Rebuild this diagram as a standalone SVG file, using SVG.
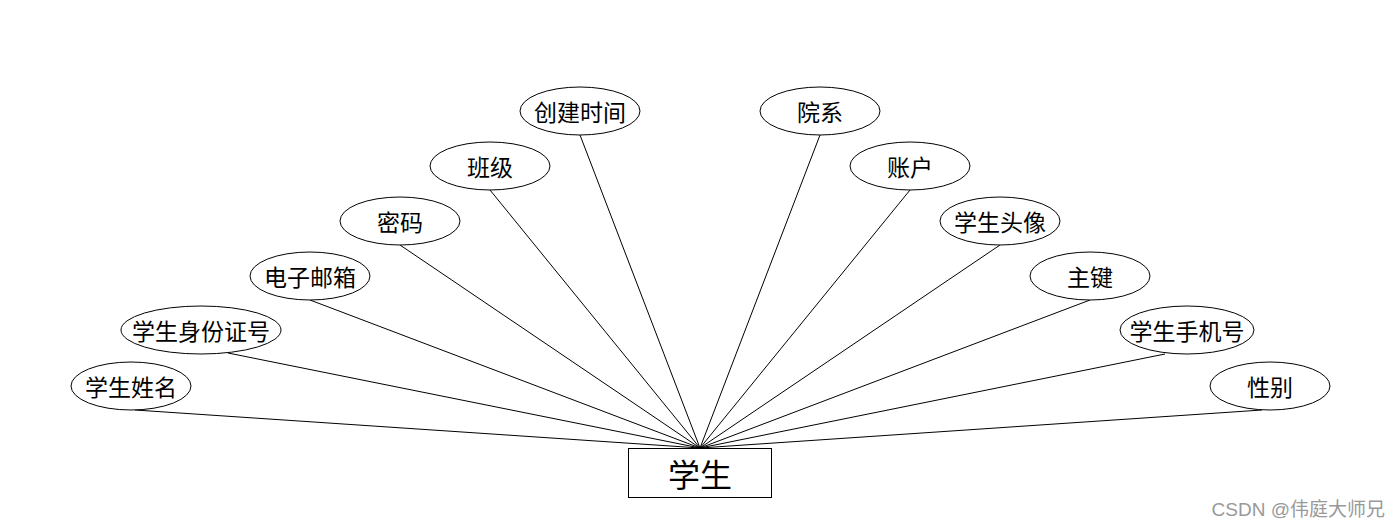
<svg xmlns="http://www.w3.org/2000/svg" width="1400" height="528" viewBox="0 0 1400 528">
<style>
.attr ellipse{fill:#fff;stroke:#000;stroke-width:1}
.attr text{font-family:"Noto Sans CJK SC","Liberation Sans",sans-serif;font-size:23px;fill:#000;text-anchor:middle;dominant-baseline:central}
#connectors line{stroke:#000;stroke-width:1}
</style>
<rect width="1400" height="528" fill="#fff"/>
<g id="connectors">
<line x1="135" y1="410" x2="700" y2="448"/>
<line x1="228" y1="353" x2="700" y2="448"/>
<line x1="310" y1="300" x2="700" y2="448"/>
<line x1="400" y1="245" x2="700" y2="448"/>
<line x1="490" y1="190" x2="700" y2="448"/>
<line x1="580" y1="135" x2="700" y2="448"/>
<line x1="820" y1="135" x2="700" y2="448"/>
<line x1="910" y1="190" x2="700" y2="448"/>
<line x1="1000" y1="245" x2="700" y2="448"/>
<line x1="1090" y1="300" x2="700" y2="448"/>
<line x1="1165" y1="354" x2="700" y2="448"/>
<line x1="1262" y1="410" x2="700" y2="448"/>
</g>
<g id="student">
<rect x="628.5" y="448.5" width="143" height="49" fill="#fff" stroke="#000"/>
<text x="700" y="473" font-family="Noto Sans CJK SC, Liberation Sans, sans-serif" font-size="32" text-anchor="middle" dominant-baseline="central">学生</text>
</g>
<g id="n-name" class="attr"><ellipse cx="131" cy="386" rx="60" ry="24"/><text x="131" y="386">学生姓名</text></g>
<g id="n-idcard" class="attr"><ellipse cx="201" cy="330" rx="80" ry="24"/><text x="201" y="330">学生身份证号</text></g>
<g id="n-email" class="attr"><ellipse cx="310" cy="276" rx="60" ry="24"/><text x="310" y="276">电子邮箱</text></g>
<g id="n-pwd" class="attr"><ellipse cx="400" cy="221" rx="60" ry="24"/><text x="400" y="221">密码</text></g>
<g id="n-class" class="attr"><ellipse cx="490" cy="166" rx="60" ry="24"/><text x="490" y="166">班级</text></g>
<g id="n-ctime" class="attr"><ellipse cx="580" cy="111" rx="60" ry="24"/><text x="580" y="111">创建时间</text></g>
<g id="n-dept" class="attr"><ellipse cx="820" cy="111" rx="60" ry="24"/><text x="820" y="111">院系</text></g>
<g id="n-account" class="attr"><ellipse cx="910" cy="166" rx="60" ry="24"/><text x="910" y="166">账户</text></g>
<g id="n-avatar" class="attr"><ellipse cx="1000" cy="221" rx="60" ry="24"/><text x="1000" y="221">学生头像</text></g>
<g id="n-pk" class="attr"><ellipse cx="1090" cy="276" rx="60" ry="24"/><text x="1090" y="276">主键</text></g>
<g id="n-phone" class="attr"><ellipse cx="1187" cy="330" rx="67" ry="24"/><text x="1187" y="330">学生手机号</text></g>
<g id="n-gender" class="attr"><ellipse cx="1270" cy="386" rx="60" ry="24"/><text x="1270" y="386">性别</text></g>
<text x="1385" y="509" font-family="Liberation Sans, Noto Sans CJK SC, sans-serif" font-size="19" fill="#999" text-anchor="end" dominant-baseline="central">CSDN @伟庭大师兄</text>
</svg>
